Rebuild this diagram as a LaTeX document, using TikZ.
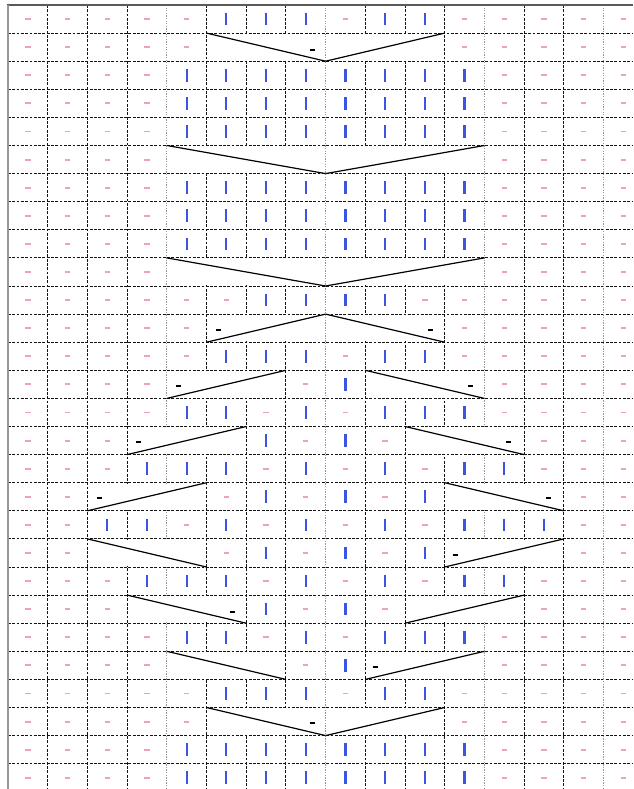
\documentclass[tikz,border=0pt]{standalone}
\definecolor{pinkc}{RGB}{236,165,175}
\definecolor{bluec}{RGB}{60,85,225}
\definecolor{gridc}{RGB}{20,20,20}
\definecolor{greyc}{RGB}{150,150,150}
\definecolor{borderc}{RGB}{90,90,90}
\tikzset{
  gridline/.style={gridc,line width=1pt,dash pattern=on 2.8pt off 1.5pt},
  greyline/.style={greyc,line width=0.9pt,dash pattern=on 1.3pt off 1.3pt},
  pinkmark/.style={pinkc,line width=1.9pt},
  bluemark/.style={bluec,line width=2.2pt},
  blackmark/.style={black,line width=1.7pt},
  cableline/.style={black,line width=1.2pt},
}
\newcommand\chartrow[2]{%
  \foreach \s [count=\c] in {#2}{%
    \pgfmathsetmacro\xx{8+39.7*(\c-0.5)}%
    \pgfmathsetmacro\yy{5+28.1*(#1-0.5)}%
    \if p\s \draw[pinkmark] (\xx-2.7,\yy) -- (\xx+2.7,\yy);\fi
    \if b\s \draw[bluemark] (\xx,\yy-6.3) -- (\xx,\yy+6.3);\fi
  }}
\newcommand\cablebox[3]{%
  \fill[white] ({8+39.7*#2+0.9},{5+28.1*(#1-1)+0.9}) rectangle ({8+39.7*#3-0.9},{5+28.1*#1-0.9});}
\newcommand\cl[4]{%
  \draw[cableline] ({8+39.7*#1},{5+28.1*#2}) -- ({8+39.7*#3},{5+28.1*#4});}
\newcommand\bm[2]{\draw[blackmark] (#1-2.5,#2) -- (#1+2.5,#2);}
\begin{document}
\begin{tikzpicture}[x=1pt,y=-1pt]
\useasboundingbox (0,0) rectangle (633,789);
\fill[white] (0,0) rectangle (633,789);
% grid
\foreach \k in {1,...,27}{\draw[gridline] (8,{5+28.1*\k}) -- (633,{5+28.1*\k});}
\foreach \k in {1,2,3,5,6,7,9,10,11,13,14}{\draw[gridline] ({8+39.7*\k},5) -- ({8+39.7*\k},789);}
\foreach \k in {4,12,15}{\draw[greyline] ({8+39.7*\k},5) -- ({8+39.7*\k},789);}
% cable cells
\cablebox{2}{5}{11}
\cablebox{6}{4}{12}
\cablebox{10}{4}{12}
\cablebox{12}{5}{11}
\cablebox{14}{4}{7}\cablebox{14}{9}{12}
\cablebox{16}{3}{6}\cablebox{16}{10}{13}
\cablebox{18}{2}{5}\cablebox{18}{11}{14}
\cablebox{20}{2}{5}\cablebox{20}{11}{14}
\cablebox{22}{3}{6}\cablebox{22}{10}{13}
\cablebox{24}{4}{7}\cablebox{24}{9}{12}
\cablebox{26}{5}{11}
% centre line
\draw[greyline] ({8+39.7*8},5) -- ({8+39.7*8},789);
% borders
\draw[borderc,line width=2pt] (7,5) -- (633,5);
\draw[greyc,line width=1.8pt] (8,5) -- (8,789);
% symbols
\chartrow{1}{p,p,p,p,p,b,b,b,p,b,b,p,p,p,p,p}
\chartrow{2}{p,p,p,p,p,x,x,x,x,x,x,p,p,p,p,p}
\chartrow{3}{p,p,p,p,b,b,b,b,b,b,b,b,p,p,p,p}
\chartrow{4}{p,p,p,p,b,b,b,b,b,b,b,b,p,p,p,p}
\chartrow{5}{p,p,p,p,b,b,b,b,b,b,b,b,p,p,p,p}
\chartrow{6}{p,p,p,p,x,x,x,x,x,x,x,x,p,p,p,p}
\chartrow{7}{p,p,p,p,b,b,b,b,b,b,b,b,p,p,p,p}
\chartrow{8}{p,p,p,p,b,b,b,b,b,b,b,b,p,p,p,p}
\chartrow{9}{p,p,p,p,b,b,b,b,b,b,b,b,p,p,p,p}
\chartrow{10}{p,p,p,p,x,x,x,x,x,x,x,x,p,p,p,p}
\chartrow{11}{p,p,p,p,p,p,b,b,b,b,p,p,p,p,p,p}
\chartrow{12}{p,p,p,p,p,x,x,x,x,x,x,p,p,p,p,p}
\chartrow{13}{p,p,p,p,p,b,b,b,p,b,b,p,p,p,p,p}
\chartrow{14}{p,p,p,p,x,x,x,p,b,x,x,x,p,p,p,p}
\chartrow{15}{p,p,p,p,b,b,p,b,p,b,b,b,p,p,p,p}
\chartrow{16}{p,p,p,x,x,x,b,p,b,p,x,x,x,p,p,p}
\chartrow{17}{p,p,p,b,b,b,p,b,p,b,p,b,b,p,p,p}
\chartrow{18}{p,p,x,x,x,p,b,p,b,p,b,x,x,x,p,p}
\chartrow{19}{p,p,b,b,p,b,p,b,p,b,p,b,b,b,p,p}
\chartrow{20}{p,p,x,x,x,p,b,p,b,p,b,x,x,x,p,p}
\chartrow{21}{p,p,p,b,b,b,p,b,p,b,p,b,b,p,p,p}
\chartrow{22}{p,p,p,x,x,x,b,p,b,p,x,x,x,p,p,p}
\chartrow{23}{p,p,p,p,b,b,p,b,p,b,b,b,p,p,p,p}
\chartrow{24}{p,p,p,p,x,x,x,p,b,x,x,x,p,p,p,p}
\chartrow{25}{p,p,p,p,p,b,b,b,p,b,b,p,p,p,p,p}
\chartrow{26}{p,p,p,p,p,x,x,x,x,x,x,p,p,p,p,p}
\chartrow{27}{p,p,p,p,b,b,b,b,b,b,b,b,p,p,p,p}
\chartrow{28}{p,p,p,p,b,b,b,b,b,b,b,b,p,p,p,p}
% cable lines
\cl{5}{1}{8}{2}\cl{8}{2}{11}{1}
\cl{4}{5}{8}{6}\cl{8}{6}{12}{5}
\cl{4}{9}{8}{10}\cl{8}{10}{12}{9}
\cl{5}{12}{8}{11}\cl{8}{11}{11}{12}
\cl{4}{14}{7}{13}\cl{9}{13}{12}{14}
\cl{3}{16}{6}{15}\cl{10}{15}{13}{16}
\cl{2}{18}{5}{17}\cl{11}{17}{14}{18}
\cl{2}{19}{5}{20}\cl{11}{20}{14}{19}
\cl{3}{21}{6}{22}\cl{10}{22}{13}{21}
\cl{4}{23}{7}{24}\cl{9}{24}{12}{23}
\cl{5}{25}{8}{26}\cl{8}{26}{11}{25}
% black marks
\bm{312}{50}
\bm{218}{330}\bm{430}{330}
\bm{178}{386}\bm{470}{386}
\bm{138}{442}\bm{508}{442}
\bm{99}{498}\bm{548}{498}
\bm{455}{555}
\bm{232}{612}
\bm{375}{667}
\bm{312}{723}
\end{tikzpicture}
\end{document}
